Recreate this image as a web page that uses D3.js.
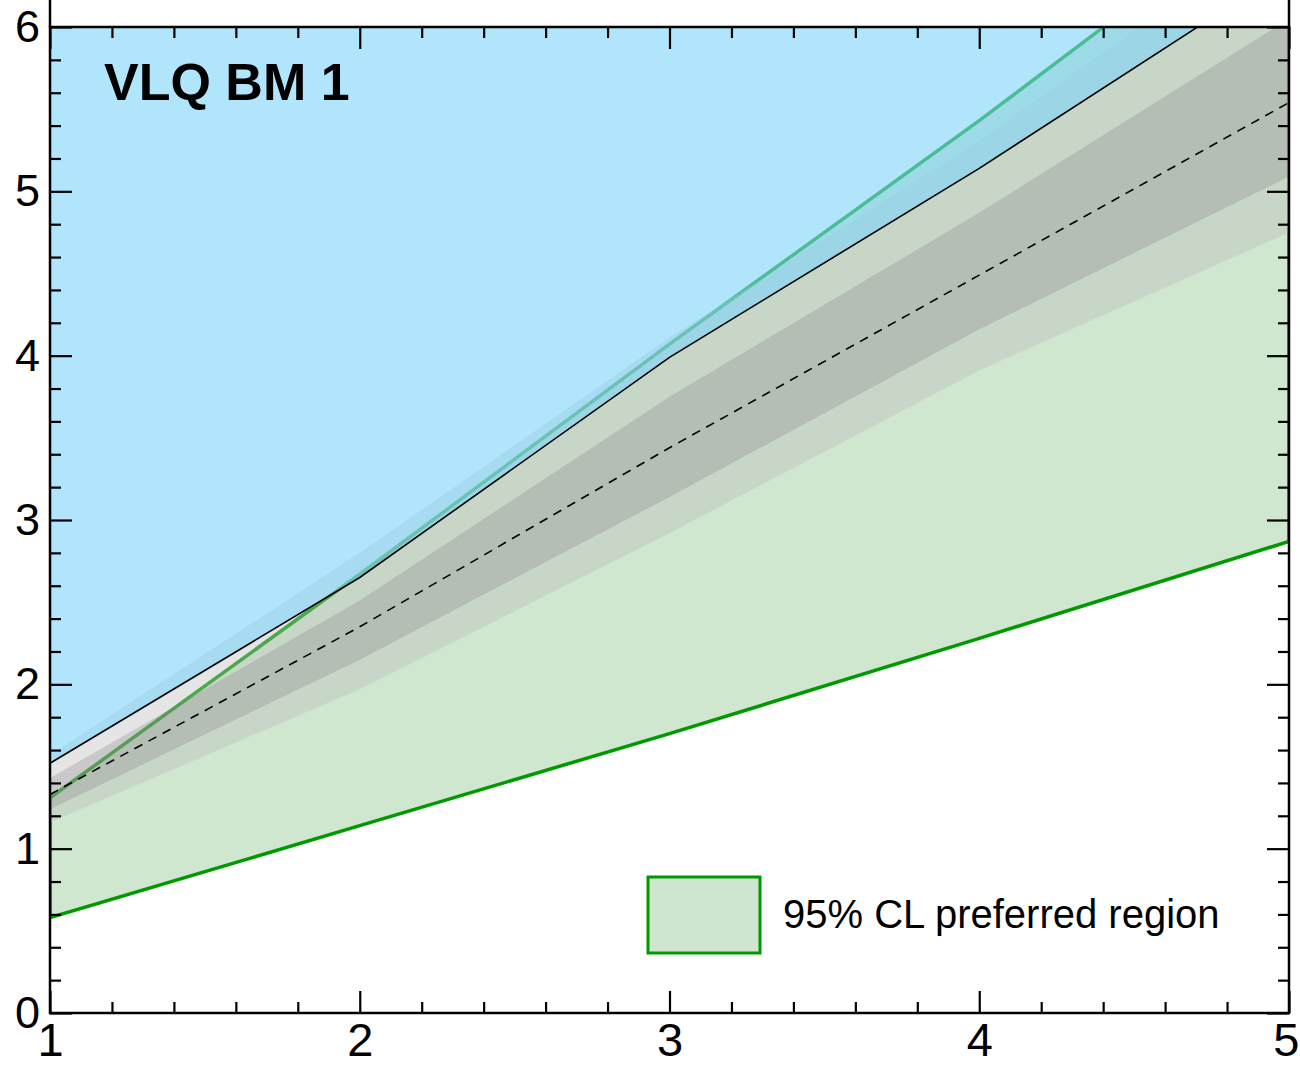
<!DOCTYPE html>
<html>
<head>
<meta charset="utf-8">
<script src="https://cdn.jsdelivr.net/npm/d3@7"></script>
<style>
  body { margin: 0; background: #fff; }
  svg text { font-family: "Liberation Sans", Arial, sans-serif; }
</style>
</head>
<body>
<div class="canvas"></div>
<script>
// values
const mass = [1, 2, 3, 4, 5];
const expected = [1.33, 2.35, 3.44, 4.49, 5.54];
const sig1Lo = [1.24, 2.15, 3.14, 4.16, 5.09];
const sig1Hi = [1.43, 2.51, 3.75, 4.87, 6.05];
const sig2Lo = [1.16, 1.97, 2.92, 3.91, 4.75];
const sig2Hi = [1.57, 2.80, 4.11, 5.31, 6.65];
const observed = [1.52, 2.65, 3.99, 5.14, 6.36];
const prefLo = [0.58, 1.14, 1.70, 2.28, 2.87];
const prefHi = [1.31, 2.67, 4.07, 5.43, 6.85];
const xTicks = [1, 2, 3, 4, 5];
const yTicks = [0, 1, 2, 3, 4, 5, 6];
const title = 'VLQ BM 1';
const legendLabel = '95% CL preferred region';

const dims = { width: 1300, height: 1068 };
const m = { left: 50, right: 11, top: 27, bottom: 55 };
const w = dims.width - m.left - m.right;
const h = dims.height - m.top - m.bottom;

const svg = d3
  .select('.canvas')
  .append('svg')
  .attr('width', dims.width)
  .attr('height', dims.height);

svg.append('defs')
  .append('clipPath')
  .attr('id', 'plotClip')
  .append('rect')
  .attr('width', w)
  .attr('height', h);

const graph = svg
  .append('g')
  .attr('transform', `translate(${m.left}, ${m.top})`);

const x = d3.scaleLinear().domain([1, 5]).range([0, w]);
const y = d3.scaleLinear().domain([0, 6]).range([h, 0]);

const rows = mass.map((mv, i) => ({
  m: mv,
  exp: expected[i],
  s1lo: sig1Lo[i],
  s1hi: sig1Hi[i],
  s2lo: sig2Lo[i],
  s2hi: sig2Hi[i],
  obs: observed[i],
  plo: prefLo[i],
  phi: prefHi[i]
}));

const band = (lo, hi) =>
  d3.area().x(d => x(d.m)).y0(d => y(d[lo])).y1(d => y(d[hi]));
const line = key => d3.line().x(d => x(d.m)).y(d => y(d[key]));

const plot = graph.append('g').attr('clip-path', 'url(#plotClip)');

// preferred region (green)
plot.append('path')
  .datum(rows)
  .attr('d', band('plo', 'phi'))
  .attr('fill', 'rgba(0,128,0,0.19)');

const prefOutline = rows
  .map(d => [x(d.m), y(d.plo)])
  .concat(rows.slice().reverse().map(d => [x(d.m), y(d.phi)]));
plot.append('path')
  .attr('d', d3.line()(prefOutline) + 'Z')
  .attr('fill', 'none')
  .attr('stroke', '#009a00')
  .attr('stroke-width', 3.5);

// expected bands
plot.append('path')
  .datum(rows)
  .attr('d', band('s2lo', 's2hi'))
  .attr('fill', 'rgba(190,190,190,0.4)');

plot.append('path')
  .datum(rows)
  .attr('d', band('s1lo', 's1hi'))
  .attr('fill', 'rgba(126,126,126,0.27)');

plot.append('path')
  .datum(rows)
  .attr('d', line('exp'))
  .attr('fill', 'none')
  .attr('stroke', '#000')
  .attr('stroke-width', 1.6)
  .attr('stroke-dasharray', '9,7');

// excluded region above observed
plot.append('path')
  .datum(rows)
  .attr('d', d3.area().x(d => x(d.m)).y0(d => y(d.obs)).y1(() => y(6) - 5))
  .attr('fill', 'rgba(125,212,250,0.6)');

plot.append('path')
  .datum(rows)
  .attr('d', line('obs'))
  .attr('fill', 'none')
  .attr('stroke', '#000')
  .attr('stroke-width', 1.6);

// axes, ticks inside on all four sides
const minorX = d3.range(1, 5.001, 0.2).filter(v => Math.abs(v - Math.round(v)) > 1e-6);
const minorY = d3.range(0, 6.001, 0.2).filter(v => Math.abs(v - Math.round(v)) > 1e-6);

const styleAxis = g => {
  g.select('.domain').remove();
  g.selectAll('line').attr('stroke', '#000').attr('stroke-width', 2.2);
};

graph.append('g')
  .attr('transform', `translate(0, ${h})`)
  .call(d3.axisBottom(x).tickValues(xTicks).tickSize(-22).tickPadding(10).tickFormat(d3.format('d')))
  .call(styleAxis)
  .call(g => g.selectAll('text').attr('font-size', 47).attr('fill', '#000'))
  // last label sits against the right edge of the page
  .call(g => g.selectAll('.tick')
    .filter(d => d === 5)
    .select('text')
    .attr('text-anchor', 'end')
    .attr('x', 10));
graph.append('g')
  .attr('transform', `translate(0, ${h})`)
  .call(d3.axisBottom(x).tickValues(minorX).tickSize(-11).tickFormat(''))
  .call(styleAxis);
graph.append('g')
  .call(d3.axisTop(x).tickValues(xTicks).tickSize(-22).tickFormat(''))
  .call(styleAxis);
graph.append('g')
  .call(d3.axisTop(x).tickValues(minorX).tickSize(-11).tickFormat(''))
  .call(styleAxis);

graph.append('g')
  .call(d3.axisLeft(y).tickValues(yTicks).tickSize(-22).tickPadding(10).tickFormat(d3.format('d')))
  .call(styleAxis)
  .call(g => g.selectAll('text').attr('font-size', 45).attr('fill', '#000'));
graph.append('g')
  .call(d3.axisLeft(y).tickValues(minorY).tickSize(-11).tickFormat(''))
  .call(styleAxis);
graph.append('g')
  .attr('transform', `translate(${w}, 0)`)
  .call(d3.axisRight(y).tickValues(yTicks).tickSize(-22).tickFormat(''))
  .call(styleAxis);
graph.append('g')
  .attr('transform', `translate(${w}, 0)`)
  .call(d3.axisRight(y).tickValues(minorY).tickSize(-11).tickFormat(''))
  .call(styleAxis);

// frame, side lines run up past the top edge as in the source figure
graph.append('rect')
  .attr('width', w)
  .attr('height', h)
  .attr('fill', 'none')
  .attr('stroke', '#000')
  .attr('stroke-width', 2.5);
graph.selectAll('.sideLine')
  .data([0, w])
  .enter()
  .append('line')
  .attr('x1', d => d)
  .attr('x2', d => d)
  .attr('y1', -m.top)
  .attr('y2', 0)
  .attr('stroke', '#000')
  .attr('stroke-width', 2.5);

// title
graph.append('text')
  .attr('x', 54)
  .attr('y', 73)
  .attr('font-size', 52)
  .attr('font-weight', 'bold')
  .attr('fill', '#000')
  .text(title);

// legend
const legendGroup = graph
  .append('g')
  .attr('transform', `translate(${648 - m.left}, ${877 - m.top})`);
legendGroup.append('rect')
  .attr('width', 112)
  .attr('height', 76)
  .attr('fill', '#cfe5cf')
  .attr('stroke', '#009a00')
  .attr('stroke-width', 3);
legendGroup.append('text')
  .attr('x', 135)
  .attr('y', 51)
  .attr('font-size', 40)
  .attr('fill', '#000')
  .text(legendLabel);
</script>
</body>
</html>
